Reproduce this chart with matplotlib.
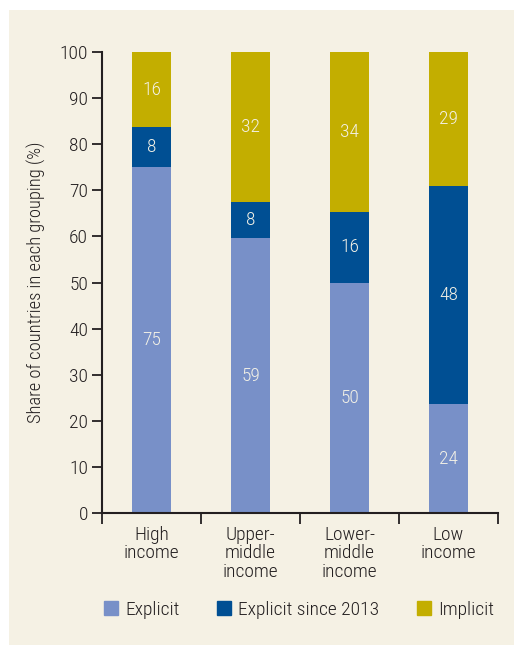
import matplotlib
matplotlib.use("Agg")
import matplotlib.pyplot as plt
from matplotlib.patches import Rectangle, Patch
from matplotlib import font_manager

names = {f.name for f in font_manager.fontManager.ttflist}
fam = [n for n in ["Roboto Condensed", "Liberation Sans Narrow", "Arial Narrow"] if n in names] + ["DejaVu Sans"]
plt.rcParams['font.family'] = fam
plt.rcParams['font.weight'] = 'light'
plt.rcParams['axes.labelweight'] = 'light'

categories = ["High\nincome", "Upper-\nmiddle\nincome", "Lower-\nmiddle\nincome", "Low\nincome"]
explicit = [75.0, 59.6, 50.0, 23.6]
explicit_since_2013 = [8.7, 7.9, 15.3, 47.3]
implicit = [16.3, 32.5, 34.7, 29.1]
labels_explicit = ["75", "59", "50", "24"]
labels_since = ["8", "8", "16", "48"]
labels_implicit = ["16", "32", "34", "29"]
series_names = ["Explicit", "Explicit since 2013", "Implicit"]

c_exp = "#7890c8"
c_since = "#004f93"
c_imp = "#c3ae00"
bg = "#f5f1e4"
txt = "#231f20"

W, H = 514, 645
fig = plt.figure(figsize=(W/100, H/100), dpi=100)
fig.patch.set_facecolor("white")
fig.patches.append(Rectangle((9/W, 0), 1 - 9/W, 1 - 10/H, transform=fig.transFigure,
                             facecolor=bg, edgecolor="none", zorder=-10))

ax = fig.add_axes([102/W, 132/H, (498-102)/W, (513-52)/H])
ax.set_facecolor(bg)
ax.patch.set_alpha(0)

x = [i + 0.5 for i in range(len(categories))]
w = 0.4
b1 = ax.bar(x, explicit, w, color=c_exp, label=series_names[0])
bottom2 = explicit
b2 = ax.bar(x, explicit_since_2013, w, bottom=bottom2, color=c_since, label=series_names[1])
bottom3 = [a + b for a, b in zip(explicit, explicit_since_2013)]
b3 = ax.bar(x, implicit, w, bottom=bottom3, color=c_imp, label=series_names[2])

lab_col = "#f3f1e6"
for bars, labs in ((b1, labels_explicit), (b2, labels_since), (b3, labels_implicit)):
    ax.bar_label(bars, labels=labs, label_type="center", color=lab_col, fontsize=14)

ax.set_xlim(0, 4)
ax.set_ylim(0, 100)
ax.set_yticks(range(0, 101, 10))
ax.set_xticks([0, 1, 2, 3, 4])
ax.set_xticklabels([])
ax.set_xticks(x, minor=True)
ax.set_xticklabels(categories, minor=True, fontsize=14, color=txt, linespacing=1.05)
ax.tick_params(axis="x", which="minor", length=0, pad=9)
ax.tick_params(axis="x", which="major", length=8, width=1.3, color=txt)
ax.tick_params(axis="y", length=7, width=1.3, color=txt, labelsize=14, labelcolor=txt, pad=3)
for s in ("top", "right"):
    ax.spines[s].set_visible(False)
for s in ("left", "bottom"):
    ax.spines[s].set_linewidth(1.5)
    ax.spines[s].set_color(txt)
ax.set_ylabel("Share of countries in each grouping (%)", fontsize=13.3, color=txt, labelpad=10)

handles = [Patch(color=c_exp), Patch(color=c_since), Patch(color=c_imp)]
fig.legend(handles, series_names, loc="center", bbox_to_anchor=(299/W, 1 - 610/H),
           ncol=3, frameon=False, fontsize=14, handlelength=0.72, handleheight=0.72,
           handletextpad=0.35, columnspacing=1.95, labelcolor=txt)

fig.savefig("out.png", dpi=100, facecolor=fig.get_facecolor())
